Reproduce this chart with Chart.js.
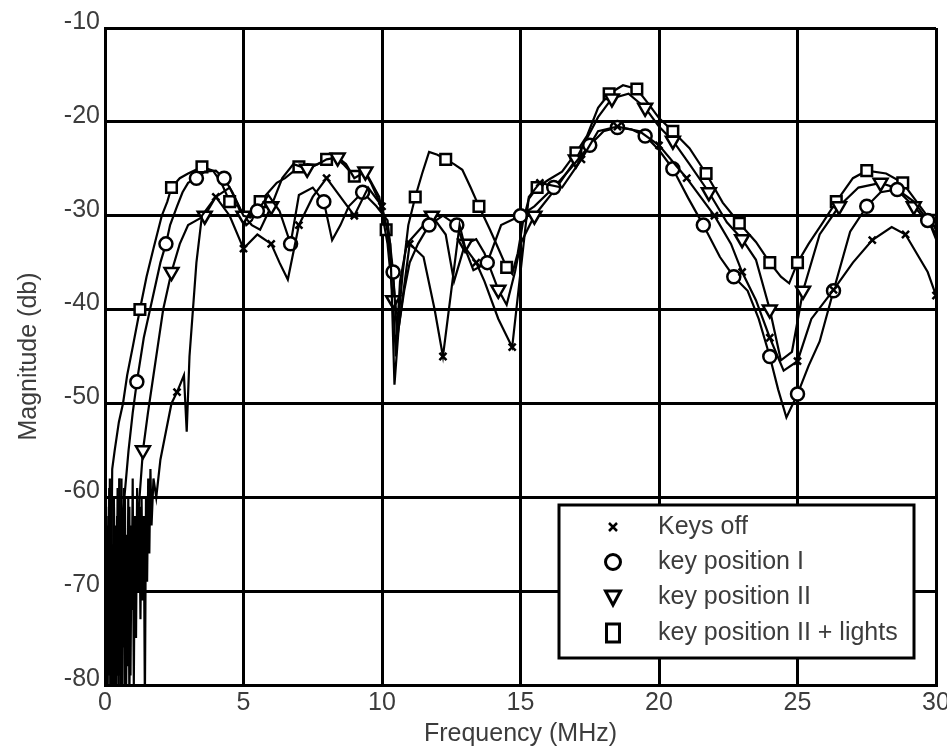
<!DOCTYPE html>
<html>
<head>
<meta charset="utf-8">
<script src="https://cdn.jsdelivr.net/npm/chart.js@4.4.1/dist/chart.umd.min.js"></script>
<style>
html,body{margin:0;padding:0;background:#fff;}
canvas{display:block;}
</style>
</head>
<body>
<canvas id="c" width="947" height="748"></canvas>
<script>
// ---- Data (Frequency in MHz, Magnitude in dB) ----
const seriesLabels = ["Keys off", "key position I", "key position II", "key position II + lights"];
const xTicks = [0, 5, 10, 15, 20, 25, 30];
const yTicks = [-80, -70, -60, -50, -40, -30, -20, -10];

const keysOffFreq = [0.00,0.04,0.08,0.12,0.16,0.20,0.24,0.28,0.32,0.36,
0.40,0.44,0.48,0.52,0.56,0.60,0.64,0.68,0.72,0.76,
0.80,0.84,0.88,0.92,0.96,1.00,1.04,1.08,1.12,1.16,
1.20,1.24,1.28,1.32,1.36,1.40,1.44,1.48,1.52,1.56,
1.60,1.64,1.68,1.75,1.85,2.00,2.20,2.40,2.60,2.85,
2.95,3.05,3.30,3.50,4.00,4.50,5.00,5.50,6.00,6.30,
6.60,7.00,7.50,8.00,8.50,9.00,9.50,10.00,10.30,10.45,
10.60,11.00,11.50,11.90,12.20,12.50,12.80,13.00,13.40,13.70,
14.20,14.70,15.00,15.30,15.70,16.50,17.20,17.80,18.50,19.30,
20.00,21.00,22.00,22.60,23.00,23.50,24.00,24.50,25.00,25.50,
26.30,27.00,27.70,28.40,28.90,29.30,29.70,30.00];
const keysOffMag = [-70,-82,-63,-77,-59,-81,-66,-82,-60,-75,
-82,-62,-79,-58,-82,-68,-74,-59,-82,-64,
-78,-60,-82,-65,-72,-58,-80,-62,-75,-59,
-70,-61,-73,-60,-71,-62,-82,-60,-69,-58,
-66,-57,-63,-58,-60,-56,-53,-50,-48.8,-47,
-53,-45,-35,-30,-28,-30,-33.5,-32,-33,-35,
-36.8,-31,-28,-26,-28,-30,-27,-29,-33,-48,
-42,-33,-34.4,-40,-45,-38,-31,-33.4,-35,-37,
-41,-44,-36,-28,-26.5,-27,-24,-21,-20.5,-21,
-22.5,-26,-30,-33,-36,-39,-43,-46.5,-45.5,-41,
-37.9,-35,-32.6,-31.2,-32,-34,-36,-38.5];

const keyIFreq = [0.000,0.035,0.070,0.105,0.140,0.175,0.210,0.245,0.280,0.315,
0.350,0.385,0.420,0.455,0.490,0.525,0.560,0.595,0.630,0.665,
0.700,0.85,1.00,1.15,1.40,1.70,2.00,2.20,2.35,2.60,
2.80,3.00,3.30,3.60,4.00,4.30,4.60,5.00,5.25,5.50,
5.90,6.30,6.70,7.00,7.50,7.90,8.20,8.50,8.80,9.30,
9.80,10.20,10.40,10.55,10.80,11.00,11.30,11.70,12.20,12.70,
13.00,13.30,13.80,14.30,15.00,15.50,16.20,16.80,17.50,18.00,
18.50,19.00,19.50,20.00,20.50,21.05,21.60,22.20,22.70,23.20,
23.60,24.00,24.30,24.60,25.00,25.40,25.80,26.30,26.90,27.50,
28.00,28.60,29.20,29.70,30.00];
const keyIMag = [-72,-60,-82,-64,-79,-58,-82,-67,-75,-60,
-81,-63,-77,-59,-82,-66,-73,-58,-80,-62,
-60,-55,-51,-47.7,-43,-39,-35,-33,-31,-29,
-27.5,-26.5,-26,-25.3,-25.2,-26,-27.5,-30,-30.2,-29.5,
-27.8,-29.5,-33,-27.8,-27,-28.5,-32.6,-31,-29,-27.5,
-29,-30.5,-36,-43,-38,-35,-33,-31,-30,-31,
-33.5,-35.8,-35,-31,-30,-29,-27,-25,-22.5,-21,
-20.6,-20.8,-21.5,-23,-25,-28.1,-31,-34.4,-36.5,-38,
-41,-45,-48.5,-51.5,-49,-46,-43.4,-38,-31.7,-29,
-27.5,-27.2,-28.5,-30.5,-32];

const keyIIFreq = [0.00,0.04,0.08,0.12,0.16,0.20,0.24,0.28,0.32,0.36,
0.40,0.44,0.48,0.52,0.56,0.60,0.64,0.68,0.72,0.76,
0.80,0.84,0.88,0.92,0.96,1.00,1.37,1.55,1.75,1.90,
2.10,2.40,2.70,3.00,3.30,3.60,4.00,4.50,5.00,5.30,
5.60,6.00,6.40,6.80,7.30,7.70,8.00,8.40,8.70,9.00,
9.40,9.90,10.20,10.40,10.50,10.65,10.90,11.20,11.80,12.30,
12.60,13.00,13.40,13.70,14.20,14.50,14.80,15.00,15.50,16.30,
17.00,17.80,18.30,18.90,19.50,20.00,20.50,21.10,21.80,22.45,
23.00,23.50,24.00,24.40,24.80,25.20,25.80,26.50,27.20,28.00,
28.50,29.20,29.80,30.00];
const keyIIMag = [-78,-61,-82,-69,-59,-80,-65,-82,-60,-74,
-82,-62,-79,-58,-71,-82,-64,-76,-60,-82,
-67,-73,-61,-79,-63,-70,-55,-51,-47,-44,
-40,-36,-33,-31,-30.5,-30,-28,-27,-30,-31,
-31.5,-29,-26,-24.5,-25,-24.5,-24,-23.8,-24.5,-26,
-25.3,-28,-33,-39,-45,-37,-33,-32,-30,-32,
-37,-33,-32.5,-34,-37.9,-39.5,-36,-33,-30,-27,
-24,-19.5,-17.5,-17,-18.5,-20.5,-22,-24.5,-27.5,-30.7,
-32.5,-34.7,-40,-45.4,-44.5,-38,-32,-29,-27,-26.5,
-27,-29,-31,-32.5];

const keyIILightsFreq = [0.00,0.03,0.06,0.09,0.12,0.15,0.18,0.22,0.26,0.35,
0.50,0.65,0.80,1.00,1.26,1.50,1.75,2.05,2.25,2.40,
2.70,3.00,3.50,3.90,4.20,4.50,4.80,5.10,5.30,5.60,
5.90,6.20,6.50,7.00,7.30,7.60,8.00,8.30,8.60,9.00,
9.30,9.60,9.90,10.15,10.35,10.50,10.60,10.75,10.95,11.20,
11.45,11.70,12.00,12.30,12.60,12.90,13.20,13.50,13.90,14.20,
14.50,14.70,14.90,15.10,15.30,15.60,16.00,16.50,17.00,17.40,
17.80,18.20,18.70,19.20,19.60,20.00,20.50,21.10,21.70,22.30,
22.90,23.50,24.00,24.40,24.70,25.00,25.40,25.90,26.40,27.00,
27.50,28.20,28.80,29.40,29.80,30.00];
const keyIILightsMag = [-66,-80,-62,-82,-64,-78,-60,-70,-57,-55,
-52,-50,-47,-44,-40,-36.5,-33.5,-30,-28.5,-27,
-26,-25.5,-24.8,-25.2,-26.5,-28.5,-29,-31,-30.5,-28.5,
-27.5,-26.5,-26,-24.8,-24.5,-24.6,-24,-23.7,-24.5,-25.8,
-25,-26.5,-28.5,-31.5,-35,-40,-40.9,-36,-31,-28,
-25.5,-23.2,-23.5,-24,-24.5,-25.1,-27,-29,-31.5,-33.5,
-35.5,-36.2,-34,-30.5,-28.2,-27,-26.2,-25.3,-23.3,-21.5,
-18.5,-17,-16.1,-16.5,-18,-19.6,-21,-22.8,-25.5,-28.6,
-30.8,-32.8,-35,-36.5,-37.2,-35,-33,-30.8,-28.5,-26,
-25.2,-25.5,-26.5,-28.9,-30.5,-31.5];

// ---- styling helpers ----
const FONT = "'Liberation Sans', Arial, sans-serif";
const TXT = '#3c3c3c';
const FS = 25;

function markerRadii(freqs, r, start) {
  let last = -99;
  return freqs.map(f => {
    if (f >= start && f - last >= 1.0) { last = f; return r; }
    return 0;
  });
}
function makeSet(label, freqs, mags, style, r, start, rot) {
  return {
    label: label,
    data: freqs.map((f, i) => ({ x: f, y: mags[i] })),
    borderColor: '#000',
    borderWidth: 2.2,
    pointStyle: style,
    rotation: rot || 0,
    pointRadius: markerRadii(freqs, r, start),
    pointHoverRadius: 0,
    pointBorderColor: '#000',
    pointBackgroundColor: '#fff',
    pointBorderWidth: 2.5,
    tension: 0,
    fill: false
  };
}

const datasets = [
  makeSet(seriesLabels[0], keysOffFreq, keysOffMag, 'crossRot', 5, 2.5),
  makeSet(seriesLabels[1], keyIFreq, keyIMag, 'circle', 6.5, 1.1),
  makeSet(seriesLabels[2], keyIIFreq, keyIIMag, 'triangle', 8, 1.3, 180),
  makeSet(seriesLabels[3], keyIILightsFreq, keyIILightsMag, 'rect', 7.5, 1.2)
];

// legend drawn inside plot area, lower right
const boxLegend = {
  id: 'boxLegend',
  afterDraw(chart) {
    const ctx = chart.ctx, a = chart.chartArea;
    const L = a.right - 377, T = a.bottom - 180, W = 355, H = 153;
    ctx.save();
    ctx.fillStyle = '#fff';
    ctx.fillRect(L, T, W, H);
    ctx.lineWidth = 3;
    ctx.strokeStyle = '#000';
    ctx.strokeRect(L, T, W, H);
    const rows = [22, 57, 92, 128];
    const mx = L + 54;
    chart.data.datasets.forEach((ds, i) => {
      const y = T + rows[i];
      ctx.strokeStyle = '#000';
      ctx.fillStyle = '#fff';
      ctx.lineWidth = 3;
      ctx.beginPath();
      if (ds.pointStyle === 'crossRot') {
        ctx.lineWidth = 2.5;
        ctx.moveTo(mx - 4, y - 4); ctx.lineTo(mx + 4, y + 4);
        ctx.moveTo(mx + 4, y - 4); ctx.lineTo(mx - 4, y + 4);
        ctx.stroke();
      } else if (ds.pointStyle === 'circle') {
        ctx.arc(mx, y, 7.5, 0, Math.PI * 2);
        ctx.fill(); ctx.stroke();
      } else if (ds.pointStyle === 'triangle') {
        ctx.moveTo(mx - 7.5, y - 6); ctx.lineTo(mx + 7.5, y - 6); ctx.lineTo(mx, y + 8); ctx.closePath();
        ctx.fill(); ctx.stroke();
      } else {
        ctx.rect(mx - 6.5, y - 9, 13, 18);
        ctx.fill(); ctx.stroke();
      }
      ctx.fillStyle = TXT;
      ctx.font = FS + 'px ' + FONT;
      ctx.textBaseline = 'alphabetic';
      ctx.textAlign = 'left';
      ctx.fillText(ds.label, L + 99, y + 7);
    });
    ctx.restore();
  }
};

new Chart(document.getElementById('c'), {
  type: 'line',
  data: { datasets: datasets },
  options: {
    responsive: false,
    animation: false,
    devicePixelRatio: 1,
    layout: { padding: { top: 28, right: 11, left: 0, bottom: 0 } },
    plugins: { legend: { display: false }, tooltip: { enabled: false } },
    scales: {
      x: {
        type: 'linear',
        min: 0, max: 30,
        afterBuildTicks: s => { s.ticks = xTicks.map(v => ({ value: v })); },
        afterFit: s => { s.height = 63; s.paddingRight = 0; s.paddingLeft = 0; },
        grid: { color: '#000', lineWidth: 3, drawTicks: false },
        border: { display: true, color: '#000', width: 3 },
        ticks: { color: TXT, font: { family: FONT, size: FS }, padding: 3, maxRotation: 0 },
        title: { display: true, text: 'Frequency (MHz)', color: TXT, font: { family: FONT, size: FS, lineHeight: 1 }, padding: { top: 0, bottom: 1 } }
      },
      y: {
        type: 'linear',
        min: -80, max: -10,
        afterBuildTicks: s => { s.ticks = yTicks.map(v => ({ value: v })); },
        afterFit: s => { s.width = 105; },
        grid: { color: '#000', lineWidth: 3, drawTicks: false },
        border: { display: true, color: '#000', width: 3 },
        ticks: { color: TXT, font: { family: FONT, size: FS }, padding: 5, labelOffset: -6 },
        title: { display: true, text: 'Magnitude (db)', color: TXT, font: { family: FONT, size: FS, lineHeight: 1 }, padding: { top: 17, bottom: 0 } }
      }
    }
  },
  plugins: [boxLegend]
});
</script>
</body>
</html>
